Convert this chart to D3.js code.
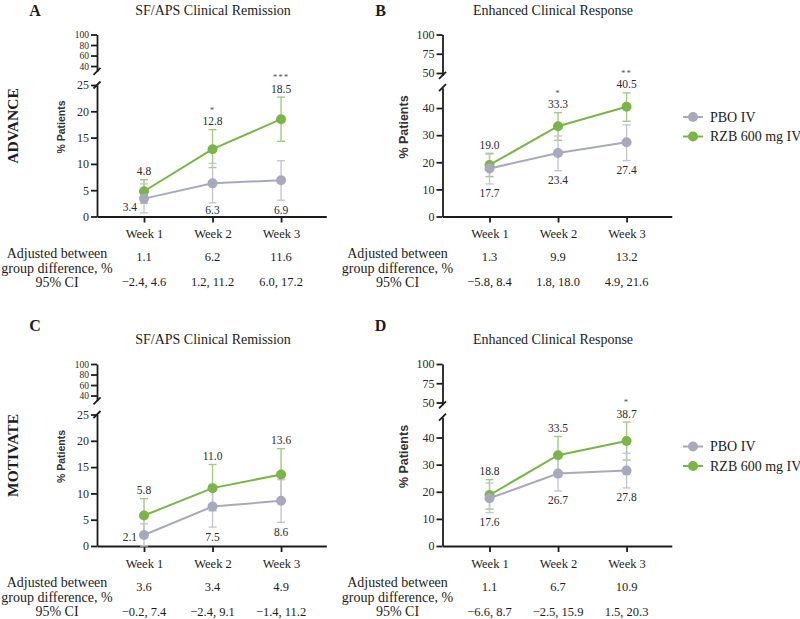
<!DOCTYPE html>
<html><head><meta charset="utf-8">
<script src="https://cdn.jsdelivr.net/npm/d3@7"></script>
<style>body{margin:0;background:#fff} svg{display:block}</style>
</head><body>
<script>
// ---------- data ----------
const weeks = ["Week 1", "Week 2", "Week 3"];
const weekNums = [1, 2, 3];
const seriesNames = ["PBO IV", "RZB 600 mg IV"];
const studies = ["ADVANCE", "MOTIVATE"];
const panelLetters = ["A", "B", "C", "D"];
const panelTitles = ["SF/APS Clinical Remission", "Enhanced Clinical Response", "SF/APS Clinical Remission", "Enhanced Clinical Response"];
const yTitle = "% Patients";
const tableLabel1 = ["Adjusted between", "group difference, %"];
const tableLabel2 = "95% CI";

// SF/APS axis ticks (broken axis)
const sfUpperTicks = [40, 60, 80, 100];
const sfLowerTicks = [0, 5, 10, 15, 20, 25];
// Enhanced clinical response axis ticks
const ecUpperTicks = [50, 75, 100];
const ecLowerTicks = [0, 10, 20, 30, 40];

// Panel A - ADVANCE SF/APS clinical remission
const aPbo = [3.4, 6.3, 6.9], aPboLo = [0.7, 2.6, 3.1], aPboHi = [6.2, 10.1, 10.6];
const aRzb = [4.8, 12.8, 18.5], aRzbLo = [2.5, 9.3, 14.3], aRzbHi = [7.0, 16.5, 22.7];
const aStars = ["", "*", "***"];
const aDiff = ["1.1", "6.2", "11.6"];
const aCI = ["\u22122.4, 4.6", "1.2, 11.2", "6.0, 17.2"];

// Panel B - ADVANCE enhanced clinical response
const bPbo = [17.7, 23.4, 27.4], bPboLo = [12.0, 16.9, 20.6], bPboHi = [23.0, 29.7, 33.8];
const bRzb = [19.0, 33.3, 40.5], bRzbLo = [14.7, 28.1, 35.1], bRzbHi = [23.3, 38.3, 45.6];
const bStars = ["", "*", "**"];
const bDiff = ["1.3", "9.9", "13.2"];
const bCI = ["\u22125.8, 8.4", "1.8, 18.0", "4.9, 21.6"];

// Panel C - MOTIVATE SF/APS clinical remission
const cPbo = [2.1, 7.5, 8.6], cPboLo = [0.0, 3.6, 4.5], cPboHi = [4.2, 11.4, 12.6];
const cRzb = [5.8, 11.0, 13.6], cRzbLo = [2.6, 6.7, 8.8], cRzbHi = [9.0, 15.5, 18.5];
const cStars = ["", "", ""];
const cDiff = ["3.6", "3.4", "4.9"];
const cCI = ["\u22120.2, 7.4", "\u22122.4, 9.1", "\u22121.4, 11.2"];

// Panel D - MOTIVATE enhanced clinical response
const dPbo = [17.6, 26.7, 27.8], dPboLo = [12.3, 20.3, 21.4], dPboHi = [23.2, 33.0, 34.2];
const dRzb = [18.8, 33.5, 38.7], dRzbLo = [13.6, 27.0, 31.7], dRzbHi = [24.5, 40.4, 45.7];
const dStars = ["", "", "*"];
const dDiff = ["1.1", "6.7", "10.9"];
const dCI = ["\u22126.6, 8.7", "\u22122.5, 15.9", "1.5, 20.3"];

// ---------- build panel table ----------
const panels = [
  {kind: "sf", pbo: aPbo, pboLo: aPboLo, pboHi: aPboHi, rzb: aRzb, rzbLo: aRzbLo, rzbHi: aRzbHi, stars: aStars, diff: aDiff, ci: aCI},
  {kind: "ec", pbo: bPbo, pboLo: bPboLo, pboHi: bPboHi, rzb: bRzb, rzbLo: bRzbLo, rzbHi: bRzbHi, stars: bStars, diff: bDiff, ci: bCI},
  {kind: "sf", pbo: cPbo, pboLo: cPboLo, pboHi: cPboHi, rzb: cRzb, rzbLo: cRzbLo, rzbHi: cRzbHi, stars: cStars, diff: cDiff, ci: cCI},
  {kind: "ec", pbo: dPbo, pboLo: dPboLo, pboHi: dPboHi, rzb: dRzb, rzbLo: dRzbLo, rzbHi: dRzbHi, stars: dStars, diff: dDiff, ci: dCI}
];

// ---------- styles / layout ----------
const serif = "'Liberation Serif','Times New Roman',serif";
const sans = "'Liberation Sans',Arial,sans-serif";
const GREEN = "#7ab547", GREEN_ERR = "#a7c883";
const GREY = "#a9a9be", GREY_ERR = "#c6c6d0";
const INK = "#1c1c1c";

const axisKinds = {
  sf: {upTicks: sfUpperTicks, upDomain: [30, 100], upRange: [71.3, 34.5], upFont: 9.5,
       loTicks: sfLowerTicks, loDomain: [0, 25], loRange: [216.5, 85],
       yTitleSize: 10.5, yTitleX: 61},
  ec: {upTicks: ecUpperTicks, upDomain: [47, 100], upRange: [75.3, 34.5], upFont: 12,
       loTicks: ecLowerTicks, loDomain: [0, 47.5], loRange: [216.5, 87.7],
       yTitleSize: 12.5, yTitleX: 58.5}
};

const svg = d3.select("body").append("svg").attr("width", 800).attr("height", 619)
  .style("background", "#fff");

const COL_DX = 345.5, ROW_DY = 329.5, AXIS_X = 97;

// Row study labels
studies.forEach((s, r) => {
  svg.append("text")
    .attr("transform", `translate(13,${126 + r * ROW_DY}) rotate(-90)`)
    .attr("text-anchor", "middle").attr("dy", "0.35em")
    .style("font-family", serif).style("font-size", "15.5px").style("font-weight", "bold")
    .style("fill", INK).text(s);
});

panels.forEach((p, i) => {
  const col = i % 2, row = Math.floor(i / 2);
  const g = svg.append("g").attr("transform", `translate(${col * COL_DX},${row * ROW_DY})`);
  const k = axisKinds[p.kind];

  // letter and title
  g.append("text").attr("x", 35).attr("y", row === 0 ? 10 : -4.5).attr("dy", "0.35em")
    .attr("text-anchor", "middle")
    .style("font-family", serif).style("font-size", "16px").style("font-weight", "bold")
    .style("fill", INK).text(panelLetters[i]);
  g.append("text").attr("x", col ? 207.5 : 213).attr("y", row === 0 ? 10 : 9.5).attr("dy", "0.35em")
    .attr("text-anchor", "middle")
    .style("font-family", serif).style("font-size", "14px")
    .style("fill", INK).text(panelTitles[i]);

  // scales
  const x = d3.scaleLinear().domain([0.314, 3.66]).range([AXIS_X, AXIS_X + 229.3]);
  const yUp = d3.scaleLinear().domain(k.upDomain).range(k.upRange);
  const yLo = d3.scaleLinear().domain(k.loDomain).range(k.loRange);

  const styleAxis = (sel, fs) => {
    sel.selectAll("path,line").attr("stroke", INK).attr("stroke-width", 1.8);
    sel.selectAll("text").style("font-family", serif).style("font-size", (fs || 12) + "px").style("fill", "#2a2a2a");
  };

  // y axes (upper + lower segments)
  g.append("g").attr("transform", `translate(${AXIS_X},0)`)
    .call(d3.axisLeft(yUp).tickValues(k.upTicks).tickSize(6).tickSizeOuter(0).tickPadding(2).tickFormat(d3.format("d")))
    .call(styleAxis, k.upFont);
  g.append("g").attr("transform", `translate(${AXIS_X},0)`)
    .call(d3.axisLeft(yLo).tickValues(k.loTicks).tickSize(6).tickSizeOuter(0).tickPadding(2).tickFormat(d3.format("d")))
    .call(styleAxis, 12);

  // break marks
  [k.upRange[0], k.loRange[1]].forEach(yy => {
    g.append("line").attr("x1", AXIS_X - 3.5).attr("y1", yy + 3.5).attr("x2", AXIS_X + 3.5).attr("y2", yy - 3.5)
      .attr("stroke", INK).attr("stroke-width", 1.8);
  });

  // x axis
  const xAx = g.append("g").attr("transform", `translate(0,${k.loRange[0]})`)
    .call(d3.axisBottom(x).tickValues(weekNums).tickSize(6).tickSizeOuter(0).tickFormat((d, j) => weeks[j]))
    .call(styleAxis, 12.5);
  xAx.selectAll("text").attr("y", 17.5).attr("dy", "0.35em").style("fill", INK);

  // y title
  g.append("text").attr("transform", `translate(${k.yTitleX},127) rotate(-90)`)
    .attr("text-anchor", "middle").attr("dy", "0.35em")
    .style("font-family", sans).style("font-size", k.yTitleSize + "px").style("font-weight", "bold")
    .style("fill", "#333").text(yTitle);

  // series
  const series = [
    {v: p.rzb, lo: p.rzbLo, hi: p.rzbHi, c: GREEN, ce: GREEN_ERR, name: seriesNames[1]},
    {v: p.pbo, lo: p.pboLo, hi: p.pboHi, c: GREY, ce: GREY_ERR, name: seriesNames[0]}
  ];
  // error bars
  series.forEach(s => {
    const eb = g.append("g");
    weekNums.forEach((w, j) => {
      const cx = x(w);
      eb.append("line").attr("x1", cx).attr("x2", cx).attr("y1", yLo(s.lo[j])).attr("y2", yLo(s.hi[j]))
        .attr("stroke", s.ce).attr("stroke-width", 1.4);
      [s.lo[j], s.hi[j]].forEach(vv => {
        eb.append("line").attr("x1", cx - 4).attr("x2", cx + 4).attr("y1", yLo(vv)).attr("y2", yLo(vv))
          .attr("stroke", s.ce).attr("stroke-width", 1.4);
      });
    });
  });
  // lines
  const lineGen = d3.line().x((d, j) => x(weekNums[j])).y(d => yLo(d));
  series.forEach(s => {
    g.append("path").datum(s.v).attr("d", lineGen).attr("fill", "none")
      .attr("stroke", s.c).attr("stroke-width", 2);
  });
  // points
  series.forEach(s => {
    g.selectAll(null).data(s.v).enter().append("circle")
      .attr("cx", (d, j) => x(weekNums[j])).attr("cy", d => yLo(d)).attr("r", 5)
      .attr("fill", s.c);
  });

  // value labels
  const lblStyle = sel => sel.style("font-family", serif).style("font-size", "11.5px").style("fill", "#2a2a2a");
  weekNums.forEach((w, j) => {
    const cx = x(w);
    const gy = yLo(p.rzbHi[j]) - 8.5;
    g.append("text").attr("x", cx).attr("y", gy).attr("dy", "0.35em").attr("text-anchor", "middle")
      .call(lblStyle).text(p.rzb[j].toFixed(1));
    if (p.stars[j]) {
      g.append("text").attr("x", cx).attr("y", gy - 11.5).attr("dy", "0.35em").attr("text-anchor", "middle")
        .style("font-family", serif).style("font-size", "9px").style("fill", "#555").style("letter-spacing", "1px")
        .text(p.stars[j]);
    }
    const y0 = yLo(0);
    let px = cx, anchor = "middle", py;
    if (y0 - yLo(p.pboLo[j]) < 6) {
      px = cx - 7; anchor = "end";
      py = Math.min(yLo(p.pbo[j]) + 8, y0 - 9);
    } else {
      py = Math.min(yLo(p.pboLo[j]) + 9.5, y0 - 6.5);
    }
    g.append("text").attr("x", px).attr("y", py).attr("dy", "0.35em").attr("text-anchor", anchor)
      .call(lblStyle).text(p.pbo[j].toFixed(1));
  });

  // table below
  const tx = col ? 52 : 57;
  const tStyle = sel => sel.style("font-family", serif).style("font-size", "14px").style("fill", INK);
  g.append("text").attr("x", tx).attr("y", 253).attr("dy", "0.35em").attr("text-anchor", "middle").call(tStyle).text(tableLabel1[0]);
  g.append("text").attr("x", tx).attr("y", 268).attr("dy", "0.35em").attr("text-anchor", "middle").call(tStyle).text(tableLabel1[1]);
  g.append("text").attr("x", tx).attr("y", 282).attr("dy", "0.35em").attr("text-anchor", "middle").call(tStyle).text(tableLabel2);
  const vStyle = sel => sel.style("font-family", serif).style("font-size", "12.5px").style("fill", INK);
  weekNums.forEach((w, j) => {
    g.append("text").attr("x", x(w)).attr("y", 257).attr("dy", "0.35em").attr("text-anchor", "middle").call(vStyle).text(p.diff[j]);
    g.append("text").attr("x", x(w)).attr("y", 282).attr("dy", "0.35em").attr("text-anchor", "middle").call(vStyle).text(p.ci[j]);
  });

  // legend on right panels
  if (col === 1) {
    const legend = [{name: seriesNames[0], c: GREY}, {name: seriesNames[1], c: GREEN}];
    legend.forEach((l, j) => {
      const ly = 117 + j * 19.5;
      const lx = 683 - COL_DX;
      g.append("line").attr("x1", lx).attr("x2", lx + 20).attr("y1", ly).attr("y2", ly)
        .attr("stroke", l.c).attr("stroke-width", 2);
      g.append("circle").attr("cx", lx + 10).attr("cy", ly).attr("r", 5).attr("fill", l.c);
      g.append("text").attr("x", lx + 27).attr("y", ly).attr("dy", "0.35em")
        .style("font-family", serif).style("font-size", "14px").style("fill", INK).text(l.name);
    });
  }
});
</script>
</body></html>
